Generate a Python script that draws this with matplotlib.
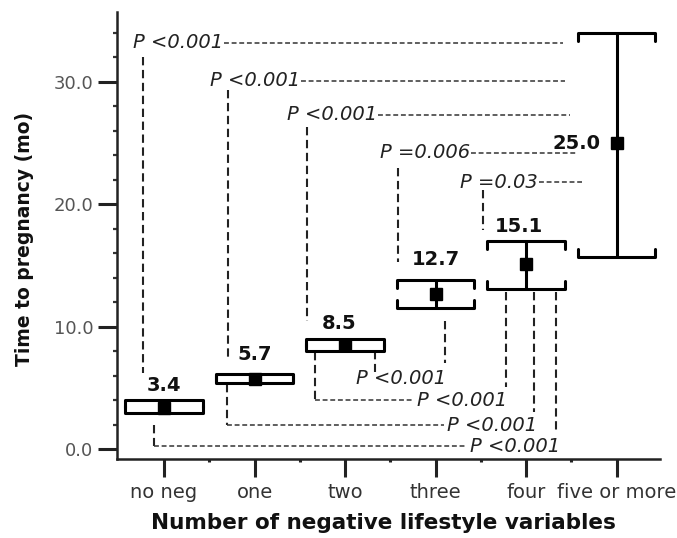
import matplotlib
matplotlib.use('Agg')
import matplotlib.pyplot as plt
from matplotlib.ticker import FixedLocator, FormatStrFormatter

# ---------------- data ----------------
categories = ['no neg', 'one', 'two', 'three', 'four', 'five or more']
means = [3.4, 5.7, 8.5, 12.7, 15.1, 25.0]
lower = [2.95, 5.4, 8.0, 11.5, 13.1, 15.7]
upper = [4.05, 6.1, 9.0, 13.8, 17.0, 34.0]
mean_labels = ['3.4', '5.7', '8.5', '12.7', '15.1', '25.0']

# annotation layout (P-value brackets)
top_p_labels = ['P <0.001', 'P <0.001', 'P <0.001', 'P =0.006', 'P =0.03']
top_p_y = [33.2, 30.1, 27.3, 24.2, 21.8]
top_text_x = [-0.34, 0.51, 1.36, 2.39, 3.27]
top_drop_x = [-0.23, 0.71, 1.58, 2.59, 3.52]
top_drop_top = [32.0, 29.3, 26.3, 23.0, 21.2]
top_drop_bottom = [6.2, 7.3, 10.5, 15.3, 17.9]
top_line_end = [4.41, 4.43, 4.49, 4.56, 4.62]

bot_p_labels = ['P <0.001', 'P <0.001', 'P <0.001', 'P <0.001']
bot_text_x = [2.12, 2.80, 3.13, 3.38]
bot_text_y = [5.8, 4.0, 1.96, 0.25]
bot_left_x = [2.33, 1.67, 0.70, -0.11]
bot_left_top = [8.0, 7.9, 5.3, 1.96]
bot_left_bot = [6.3, 4.0, 1.96, 0.25]
bot_right_x = [3.10, 3.78, 4.09, 4.33]
bot_right_top = [10.5, 12.8, 12.8, 12.8]
bot_right_bot = [7.0, 5.1, 3.0, 1.3]
bot_hline = [False, True, True, True]

value_label_x = [0.0, 1.0, 1.93, 3.0, 3.92, 4.82]
value_label_y = [5.2, 7.7, 10.3, 15.45, 18.2, 25.0]
value_label_ha = ['center', 'center', 'center', 'center', 'center', 'right']

# ---------------- figure ----------------
plt.rcParams['font.family'] = ['DejaVu Sans']
fig = plt.figure(figsize=(6.77, 5.38), dpi=100)
ax = fig.add_axes([117/677, 1-459/538, (660-117)/677, (459-12)/538])
ax.set_xlim(-0.52, 5.48)
ax.set_ylim(-0.8, 35.7)

for s in ['top', 'right']:
    ax.spines[s].set_visible(False)
for s in ['left', 'bottom']:
    ax.spines[s].set_linewidth(1.8)
    ax.spines[s].set_color('#222222')

x = list(range(len(categories)))
ax.xaxis.set_major_locator(FixedLocator(x))
ax.xaxis.set_minor_locator(FixedLocator([i + 0.5 for i in x[:-1]]))
ax.set_xticklabels(categories)
ax.yaxis.set_major_locator(FixedLocator([0, 10, 20, 30]))
ax.yaxis.set_minor_locator(FixedLocator([v for v in range(0, 36, 2) if v % 10 != 0]))
ax.yaxis.set_major_formatter(FormatStrFormatter('%.1f'))

ax.tick_params(axis='x', which='major', length=13, width=2.2, pad=4,
               labelsize=14, labelcolor='#333333', color='#222222')
ax.tick_params(axis='x', which='minor', length=2.5, width=2.2, color='#222222')
ax.tick_params(axis='y', which='major', length=14, width=2.2, pad=3,
               labelsize=13, labelcolor='#555555', color='#222222')
ax.tick_params(axis='y', which='minor', length=3, width=1.6, color='#333333')

# ---------------- error bars with bracket caps ----------------
cap_half = 0.43
cap_end = 0.65
lw = 2.2
for xi, m, lo, hi in zip(x, means, lower, upper):
    ax.plot([xi, xi], [lo, hi], color='black', lw=lw, solid_capstyle='butt', zorder=3)
    d = min(cap_end, hi - lo)
    ax.plot([xi - cap_half, xi - cap_half, xi + cap_half, xi + cap_half],
            [hi - d, hi, hi, hi - d], color='black', lw=lw,
            solid_joinstyle='round', solid_capstyle='round', zorder=3)
    ax.plot([xi - cap_half, xi - cap_half, xi + cap_half, xi + cap_half],
            [lo + d, lo, lo, lo + d], color='black', lw=lw,
            solid_joinstyle='round', solid_capstyle='round', zorder=3)
    ax.plot([xi], [m], marker='s', ms=8.5, color='black', zorder=4)

for lx, ly, lab, ha in zip(value_label_x, value_label_y, mean_labels, value_label_ha):
    ax.text(lx, ly, lab, ha=ha, va='center', fontsize=14, fontweight='bold', color='#111111')

# ---------------- P-value annotations ----------------
dash = dict(color='#333333', lw=1.1, linestyle=(0, (3.2, 1.8)), zorder=2)
vdash = dict(color='#222222', lw=1.5, linestyle=(0, (4, 2.2)), zorder=2)
pfont = dict(fontsize=14, style='italic', color='#222222', va='center')

top_texts = []
for lab, ty, tx in zip(top_p_labels, top_p_y, top_text_x):
    top_texts.append(ax.text(tx, ty, lab, ha='left', **pfont))
fig.canvas.draw()
renderer = fig.canvas.get_renderer()
inv = ax.transData.inverted()
for t, ty, dx, dtop, dbot, lend in zip(top_texts, top_p_y, top_drop_x,
                                       top_drop_top, top_drop_bottom, top_line_end):
    bb = t.get_window_extent(renderer)
    xr = inv.transform((bb.x1 + 1, 0))[0]
    ax.plot([xr, lend], [ty, ty], **dash)
    ax.plot([dx, dx], [dtop, dbot], **vdash)

for lab, tx, ty, lx, ltop, lbot, rx, rtop, rbot, hl in zip(
        bot_p_labels, bot_text_x, bot_text_y, bot_left_x, bot_left_top,
        bot_left_bot, bot_right_x, bot_right_top, bot_right_bot, bot_hline):
    ax.text(tx, ty, lab, ha='left', **pfont)
    ax.plot([lx, lx], [ltop, lbot], **vdash)
    ax.plot([rx, rx], [rtop, rbot], **vdash)
    if hl:
        ax.plot([lx, tx - 0.04], [ty, ty], **dash)

# ---------------- axis titles ----------------
fig.text(25/677, 1 - 239/538, 'Time to pregnancy (mo)', rotation=90,
         ha='center', va='center', fontsize=13.5, fontweight='bold', color='#111111')
fig.text(383/677, 1 - 523/538, 'Number of negative lifestyle variables',
         ha='center', va='center', fontsize=15.5, fontweight='bold', color='#111111')

fig.savefig('out.png', dpi=100)
